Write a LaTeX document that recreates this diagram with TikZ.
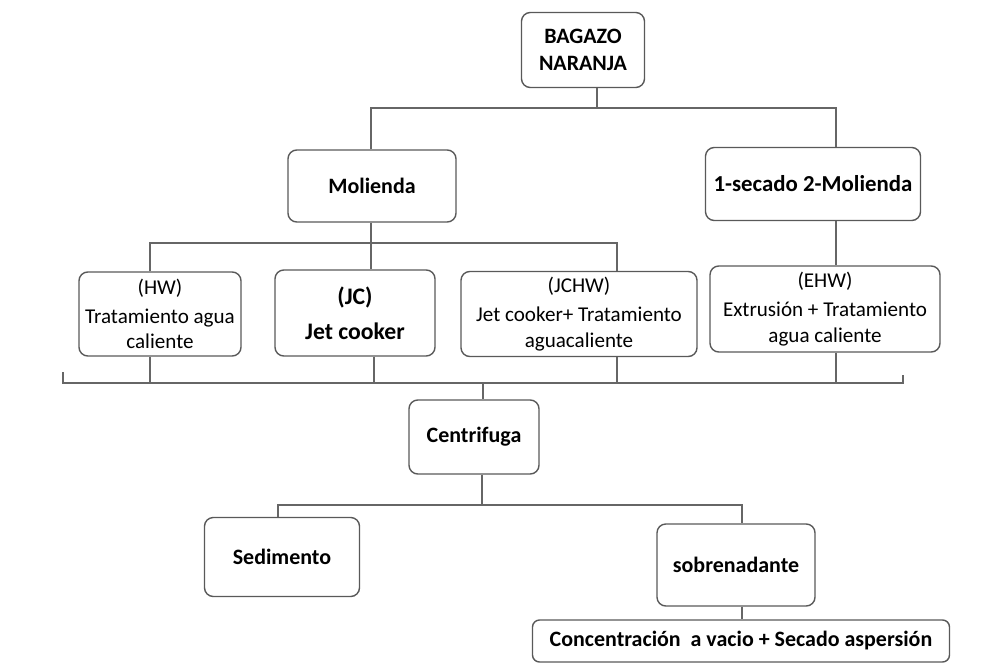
\documentclass[tikz,border=0pt]{standalone}
\usepackage{fontspec}
\setmainfont{Carlito}
\usetikzlibrary{positioning,calc}

\begin{document}
\begin{tikzpicture}[x=0.02cm, y=-0.02cm,
    box/.style={draw=black!65, line width=0.8pt, rounded corners=5pt, align=center,
      inner sep=2pt, font=\bfseries\fontsize{12.5}{15}\selectfont},
    note/.style={box, font=\fontsize{12}{14.5}\selectfont},
    link/.style={draw=black!60, line width=0.8pt}]
  \useasboundingbox (0,0) rectangle (1001,666);
  % nodes
  \node[box, minimum width=123*0.02cm, minimum height=75*0.02cm] at (583,50) (bagazo) {BAGAZO\\NARANJA};
  \node[box, minimum width=168*0.02cm, minimum height=72*0.02cm] at (372,186) (mol) {Molienda};
  \node[box, minimum width=215*0.02cm, minimum height=73*0.02cm, font=\bfseries\fontsize{13}{14}\selectfont] at (813,184) (secmol) {1-secado 2-Molienda};
  \node[note, minimum width=162*0.02cm, minimum height=84*0.02cm] at (160,314) (hw) {(HW)\\[2pt]Tratamiento agua\\caliente};
  \node[box, minimum width=160*0.02cm, minimum height=86*0.02cm, font=\bfseries\fontsize{13.5}{20}\selectfont] at (355,313) (jc) {(JC)\\Jet cooker};
  \node[note, minimum width=236*0.02cm, minimum height=85*0.02cm] at (579,314) (jchw) {(JCHW)\\[2pt]Jet cooker+ Tratamiento\\aguacaliente};
  \node[note, minimum width=230*0.02cm, minimum height=86*0.02cm] at (825,309) (ehw) {(EHW)\\[2pt]Extrusión + Tratamiento\\agua caliente};
  \node[box, minimum width=130*0.02cm, minimum height=74*0.02cm] at (474,437) (centri) {Centrifuga};
  \node[box, minimum width=155*0.02cm, minimum height=79*0.02cm] at (282,557) (sedim) {Sedimento};
  \node[box, minimum width=158*0.02cm, minimum height=82*0.02cm] at (736,565) (sobre) {sobrenadante};
  \node[box, minimum width=417*0.02cm, minimum height=42*0.02cm, rounded corners=4pt] at (741,641) (conc) {Concentración \ a vacio + Secado aspersión};
  % branch points
  \coordinate (b1) at (597,108);
  \coordinate (b2) at (371,243);
  \coordinate (brk) at (483,383);
  \coordinate (b3) at (482,505);
  % connectors
  \draw[link] (bagazo.south -| b1) -- (b1);
  \draw[link] (mol.north -| 371,0) |- (b1) -| (secmol.north -| 836,0);
  \draw[link] (mol.south -| b2) -- (b2);
  \draw[link] (hw.north -| 150,0) |- (b2) -| (jchw.north -| 617,0);
  \draw[link] (b2) -- (jc.north -| b2);
  \draw[link] (secmol.south -| 836,0) -- (ehw.north -| 836,0);
  \draw[link] (63,372) |- (brk) -| (903,375);
  \draw[link] (hw.south -| 150,0) -- (150,383);
  \draw[link] (jc.south -| 374,0) -- (374,383);
  \draw[link] (jchw.south -| 617,0) -- (617,383);
  \draw[link] (ehw.south -| 836,0) -- (836,383);
  \draw[link] (brk) -- (centri.north -| brk);
  \draw[link] (centri.south -| b3) -- (b3);
  \draw[link] (sedim.north -| 278,0) |- (b3) -| (sobre.north -| 742,0);
  \draw[link] (sobre.south -| 742,0) -- (conc.north -| 742,0);
\end{tikzpicture}
\end{document}
